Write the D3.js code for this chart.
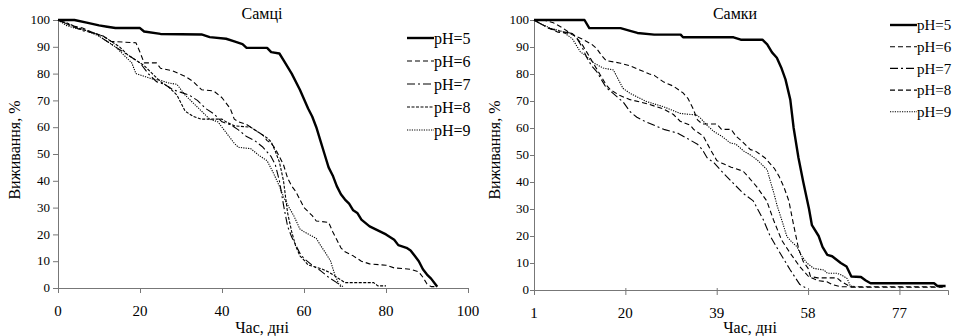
<!DOCTYPE html>
<html>
<head>
<meta charset="utf-8">
<script src="https://cdn.jsdelivr.net/npm/d3@7"></script>
</head>
<body style="margin:0">
<script>
    const width = 960;
    const height = 336;
    const font = "Liberation Serif";

    const seriesNames = ["pH=5", "pH=6", "pH=7", "pH=8", "pH=9"];
    const yTicks = [0, 10, 20, 30, 40, 50, 60, 70, 80, 90, 100];
    const maleXTicks = [0, 20, 40, 60, 80, 100];
    const femaleXTicks = [1, 20, 39, 58, 77];

    // Самці: [day, survival %]
    const malePH5 = [[0,100],[4,100],[7,99],[10,98],[12,97.5],[14,97],[20,97],[21,95.7],[25,94.8],[35,94.6],[37,93.6],[41,93],[43,92],[45,91],[46,89.6],[51,89.6],[52,88],[54,87.5],[55,85],[57,80],[59,74],[61,67],[62,64],[63,60],[64,55],[65,50],[66,45],[67,42],[68,38],[69,35],[70,33],[71,31.5],[72,29],[73,28],[74,25.5],[76,23],[78,21.5],[80,20],[82,18],[83,16],[85,15],[86,14],[87,12],[88,10],[89,7],[90,5],[91,3.5],[92,1.5],[92.5,0.5]];
    const malePH6 = [[0,100],[3,98],[6,97],[9,95],[11,94],[13,92],[19,91.5],[20,88],[21,84],[24,84],[25,82],[28,81],[31,79],[33,77],[35,74],[38,73.5],[40,71],[41,69],[42,67],[43,63],[44,62],[46,61],[48,59],[50,57],[51,55],[52,54],[53,52],[54,49],[55,46],[56,41],[57,38],[58,36],[59,33],[60,30],[62,27],[63,25],[66,24.5],[67,21],[68,18],[69,15],[70,13.5],[72,12],[74,10],[76,9],[80,8.5],[82,7.5],[86,7],[88,6],[89,4],[90,1.5],[91,0.5],[92,0.5]];
    const malePH7 = [[0,100],[3,98],[6,96],[9,95],[12,92],[14,90],[16,88],[18,86],[20,84],[22,80],[24,77],[26,76],[28,74],[30,73],[32,72],[34,70],[36,67],[38,65],[40,62],[42,61],[44,59],[46,56.5],[48,55],[50,52.5],[52,49],[53,46],[54,40],[55,31],[56,23],[57,19],[58,16],[59,13],[60,11],[62,8.5],[64,6.5],[66,4],[68,2],[69,0.5]];
    const malePH8 = [[0,100],[2,99],[5,97],[8,95.5],[11,94],[13,92],[15,90],[17,87],[19,85],[21,83],[23,80],[25,77],[27,75],[29,72],[30,69],[31,66],[33,64],[35,63],[40,63],[41,62],[43,60.5],[47,60],[49,58],[51,56],[52,54.5],[53,51],[54,47],[55,40],[56,28],[57,21],[58,15.5],[59,12],[60,10.4],[61,8.6],[64,7.3],[66,6],[67,5],[68,4],[70,2],[77,2],[78,0.8],[80,0.8]];
    const malePH9 = [[0,100],[2,98],[4,97],[7,96],[10,94],[12,92],[14,90],[16,87],[18,84],[19,80],[21,79],[23,78],[25,77.5],[27,76.5],[29,76],[31,72],[33,69],[35,66],[37,63],[39,62],[41,58],[43,54],[44,52.5],[47,52],[49,49.5],[51,47.5],[52.5,43],[54,38],[55,34],[56,31],[57.5,27],[59,22],[60,21],[63,18.5],[64,16],[65.5,12.5],[66.5,10],[67.5,5],[68.5,1.5],[69.5,0.5]];

    // Самки: [day, survival %]
    const femalePH5 = [[1,100],[11.5,100],[12.5,97],[19,97],[21,96],[22.5,95.2],[26,94.6],[31.5,94.6],[32,93.6],[42.5,93.6],[44,92.7],[48.5,92.7],[49.5,91],[50.5,88],[51.5,86],[52.5,82],[53.3,78],[54.3,70.5],[55,60],[56,49],[57,40],[58.2,30],[58.8,24],[60.2,20],[61,16],[62,13],[63,12.5],[64.8,10],[66,8.7],[67,5],[69,4.8],[70,3.5],[71,2.5],[84.2,2.5],[84.9,1.5],[86.6,1.5]];
    const femalePH6 = [[1,100],[3,100],[5,99],[7,97],[9,94.5],[11,93],[13,91],[14,89.5],[15,87],[16,85],[19,84],[21,83],[23,81.5],[25,80],[26,79.5],[28,77],[30,75.5],[32,73],[33,71],[34,67.5],[35,63],[36,61.5],[39,61.5],[40,59.5],[42,59.5],[43,57],[44,55.5],[46,52],[47,51.5],[49,49],[50,47],[51,45],[52,42],[53,38],[54,33],[55,24],[56,15.5],[57,10.5],[58,8],[58.5,5],[60,4.5],[64,4.5],[65,3],[66,2],[67,1],[86,1]];
    const femalePH7 = [[1,100],[2,99],[4,97],[6,96],[9,95],[10,93],[11,90],[12,86],[13,83],[14,81],[15,78],[16,75],[18,72],[19.6,69.5],[21,66],[22.4,64],[24,62.5],[26,61],[28,59.5],[31,58],[33,56],[35,54],[36,52],[37,49],[38.5,47],[40,44],[41.8,40.7],[44.5,35.8],[46.6,33],[48.7,26],[50.1,20],[52.2,13.6],[54.3,7.4],[56.3,2],[57.7,0.6]];
    const femalePH8 = [[1,100],[2,99],[4,97],[6,95.5],[9,95],[10,93],[11,91],[12,88],[13,85],[14,82],[15,79],[16,76],[17,74],[18.9,72],[21,70.5],[24.5,69],[28,67],[30,65],[31.4,62.5],[33.5,61],[34.2,59.5],[36.2,57],[37.7,52],[39,48],[40,47],[42,45.5],[44.5,44],[46,41],[47.3,38.3],[49.4,33],[50.8,26],[52.5,18.5],[54.3,13.6],[56.3,8.6],[58.1,5],[60,3.5],[62,3],[63,2],[64.8,1.2],[86,1.2]];
    const femalePH9 = [[1,100],[2,99],[4.3,97],[7,95.7],[9,93],[10.6,88.3],[12,86.4],[13.5,84],[15.4,82.2],[17.5,81.5],[19.5,74.7],[21,72.8],[24.4,69.8],[27.9,67.9],[31.4,65.4],[34.8,64.8],[35.6,63.7],[37,61],[38.4,58.7],[40,57],[41.8,54.5],[43,54],[44.6,51.5],[46,50],[47.4,48.2],[49.5,44.5],[50.2,40],[50.9,35.8],[51.6,31],[52.3,27.2],[53.6,19.8],[54.5,18],[55.7,16],[56.5,13],[57.8,9.9],[59.2,8],[61.3,7.4],[62,6.2],[64,6.2],[65,5.5],[66.1,4.3],[66.8,1.5],[68,1.2]];

    const svg = d3.select("body").append("svg")
        .attr("width", width)
        .attr("height", height);

    // adds a text in the chart's serif face
    function label(g, x, y, size, str){
        return g.append("text")
            .attr("x", x).attr("y", y)
            .attr("font-family", font)
            .attr("font-size", size)
            .style("font-family", "'Liberation Serif', 'Times New Roman', serif")
            .text(str);
    }

    function drawPanel(p){
        const x = d3.scaleLinear().domain(p.xDomain).range([p.left, p.right]);
        const y = d3.scaleLinear().domain([0, 100]).range([p.bottom, p.top]);
        const g = svg.append("g");

        // axes: lines from d3, labels drawn as plain texts
        const yAxis = g.append("g")
            .attr("transform", `translate(${p.left},0)`)
            .call(d3.axisLeft(y).tickValues(yTicks).tickSizeOuter(0).tickSize(p.yTickSize).tickFormat(""));
        const xAxis = g.append("g")
            .attr("transform", `translate(0,${p.bottom})`)
            .call(d3.axisBottom(x).tickValues(p.xTicks).tickSizeOuter(0).tickSize(5).tickFormat(""));
        g.selectAll(".domain, .tick line").attr("stroke", "#777").attr("stroke-width", 1);
        if(p.crossTicks){
            xAxis.selectAll(".tick line").attr("y1", -2).attr("y2", 5);
        }

        yTicks.forEach(t => {
            label(g, p.left - p.yTickSize - p.yPad, y(t), 13, t)
                .attr("text-anchor", "end").attr("dy", "0.33em");
        });
        p.xTicks.forEach(t => {
            label(g, x(t), p.bottom + 28, 15, t).attr("text-anchor", "middle");
        });

        const line = d3.line().x(d => x(d[0])).y(d => y(d[1]));

        p.series.forEach((s, i) => {
            g.append("path")
                .datum(s)
                .attr("fill", "none")
                .attr("stroke", "#000")
                .attr("stroke-width", i === 0 ? 2.4 : 1.1)
                .attr("stroke-dasharray", p.dashes[i])
                .attr("stroke-linejoin", "round")
                .attr("d", line);
        });

        // legend
        seriesNames.forEach((name, i) => {
            const ly = p.legendY + i * p.legendStep;
            g.append("line")
                .attr("x1", p.legendX).attr("x2", p.legendX + 27)
                .attr("y1", ly).attr("y2", ly)
                .attr("stroke", "#000")
                .attr("stroke-width", i === 0 ? 2.4 : 1.1)
                .attr("stroke-dasharray", p.dashes[i]);
            label(g, p.legendX + 27, ly, p.legendFont, name).attr("dy", "0.35em");
        });

        label(g, p.titleX, 19, 16, p.title).attr("text-anchor", "middle");
        label(g, p.xTitleX, 333, 16, "Час, дні").attr("text-anchor", "middle");
        label(g, 0, 0, 16, "Виживання, %")
            .attr("transform", `translate(${p.yTitleX},150) rotate(-90)`)
            .attr("text-anchor", "middle")
            .attr("dy", "0.35em");
    }

    drawPanel({
        title: "Самці",
        xDomain: [0, 100], xTicks: maleXTicks,
        left: 58, right: 468, top: 20, bottom: 288,
        yTickSize: 5, yPad: 3,
        series: [malePH5, malePH6, malePH7, malePH8, malePH9],
        dashes: [null, "5,3", "8,3,2,3", "3,1.5", "1.2,1.2"],
        legendX: 407, legendY: 38, legendStep: 23, legendFont: 16,
        titleX: 262, xTitleX: 262, yTitleX: 14
    });

    drawPanel({
        title: "Самки",
        xDomain: [1, 87.1], xTicks: femaleXTicks,
        left: 534, right: 948, top: 20, bottom: 290,
        yTickSize: 4, yPad: 1, crossTicks: true,
        series: [femalePH5, femalePH6, femalePH7, femalePH8, femalePH9],
        dashes: [null, "5,3", "8,3,2,3", "5,3", "1.2,1.2"],
        legendX: 890, legendY: 25, legendStep: 21.7, legendFont: 15,
        titleX: 735, xTitleX: 750, yTitleX: 494
    });
</script>
</body>
</html>
